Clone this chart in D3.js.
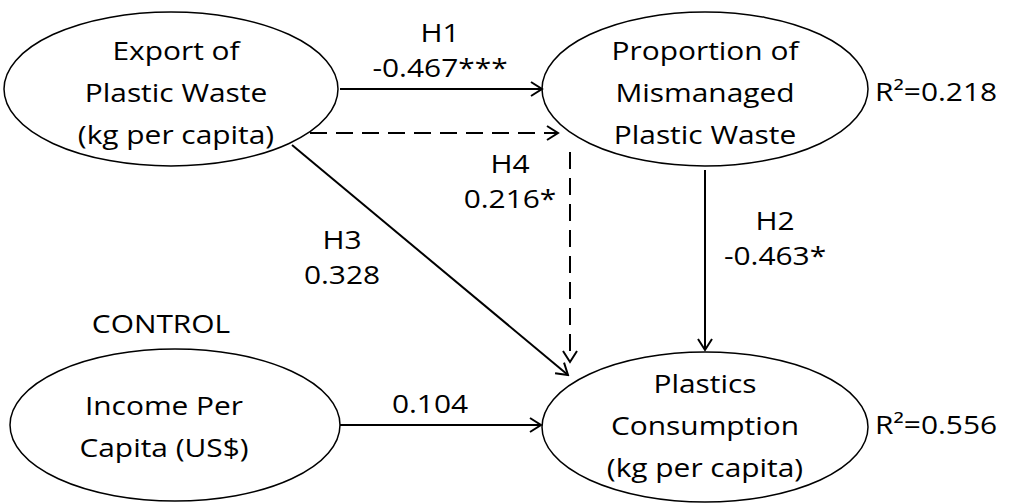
<!DOCTYPE html>
<html>
<head>
<meta charset="utf-8">
<script src="https://cdn.jsdelivr.net/npm/d3@7"></script>
<style>
	body { margin: 0; background: #fff; }
	text { font-family: 'Open Sans', 'Noto Sans', sans-serif; fill: #000; }
</style>
</head>
<body>
<div id="diagram"></div>
<script>
// constructs (ellipses), split into lines
const constructs = ['export', 'mismanaged', 'income', 'consumption']
const constructLabels = [
	['Export of', 'Plastic Waste', '(kg per capita)'],
	['Proportion of', 'Mismanaged', 'Plastic Waste'],
	['Income Per', 'Capita (US$)'],
	['Plastics', 'Consumption', '(kg per capita)']
]
const rSquared = [null, '0.218', null, '0.556']

// structural paths
const pathIds = ['H1', 'H2', 'H3', 'H4', 'C']
const pathHypotheses = ['H1', 'H2', 'H3', 'H4', '']
const pathCoefficients = ['-0.467***', '-0.463*', '0.328', '0.216*', '0.104']
const pathDashed = [false, false, false, true, false]

const controlLabel = 'CONTROL'

function init() {
	const width = 1013, height = 503
	const fontSize = 26, stretch = 1.15, lineGap = 42

	let svg = d3.select('#diagram')
	.append('svg')
	.attr('width', width)
	.attr('height', height)

	// grid position of each construct
	const col = d3.scaleOrdinal().domain(constructs).range([171, 705, 175, 705])
	const row = d3.scaleOrdinal().domain(constructs).range([89, 89, 425, 427])
	const rx = d3.scaleOrdinal().domain(constructs).range([167, 163, 165, 163])
	const ry = d3.scaleOrdinal().domain(constructs).range([77, 77, 76, 75])
	const textX = d3.scaleOrdinal().domain(constructs).range([176, 705, 164, 705])
	const textY = d3.scaleOrdinal().domain(constructs).range([102, 102, 436, 435])

	svg.append('defs').append('marker')
	.attr('id', 'head')
	.attr('viewBox', '-14 -9 16 18')
	.attr('refX', 0).attr('refY', 0)
	.attr('markerWidth', 16).attr('markerHeight', 18)
	.attr('markerUnits', 'userSpaceOnUse')
	.attr('orient', 'auto')
	.append('path')
	.attr('d', 'M-11,-7L0,0L-11,7')
	.attr('fill', 'none')
	.attr('stroke', '#000')
	.attr('stroke-width', 2)

	svg.selectAll('ellipse')
	.data(constructs)
	.join('ellipse')
	.attr('cx', d => col(d))
	.attr('cy', d => row(d))
	.attr('rx', d => rx(d))
	.attr('ry', d => ry(d))
	.attr('fill', 'none')
	.attr('stroke', '#000')
	.attr('stroke-width', 1.5)

	// little helper for the stretched text
	function label(sel, x, y, str, anchor) {
		sel.append('text')
		.attr('transform', `translate(${x},${y}) scale(${stretch},1)`)
		.attr('text-anchor', anchor || 'middle')
		.style('font-size', fontSize + 'px')
		.text(str)
	}

	let nodeText = svg.append('g')
	constructs.forEach((c, i) => {
		let lines = constructLabels[i]
		lines.forEach((l, j) => {
			label(nodeText, textX(c), textY(c) + (j - (lines.length - 1) / 2) * lineGap, l)
		})
		if (rSquared[i]) label(nodeText, 875, textY(c) - 1, 'R\u00b2=' + rSquared[i], 'start')
	})

	// arrows: start and end points beside the ellipses
	const ends = {
		H1: [[340, 89], [542, 89]],
		H2: [[705, 170], [705, 350]],
		H3: [[292, 145], [568, 375]],
		H4: [[310, 133], [558, 133]],
		H4b: [[570, 152], [570, 362]],
		C: [[340, 425], [541, 425]]
	}
	const labelPos = {
		H1: [440, 42], H2: [775, 230], H3: [342, 249], H4: [510, 173], C: [430, 413]
	}

	let line = d3.line()
	let arrows = svg.append('g')

	pathIds.forEach((id, i) => {
		let segs = id === 'H4' ? ['H4', 'H4b'] : [id]
		segs.forEach(s => {
			arrows.append('path')
			.attr('d', line(ends[s]))
			.attr('fill', 'none')
			.attr('stroke', '#000')
			.attr('stroke-width', 2)
			.attr('stroke-dasharray', pathDashed[i] ? '17,9' : null)
			.attr('marker-end', 'url(#head)')
		})
		let [lx, ly] = labelPos[id]
		if (pathHypotheses[i]) {
			label(arrows, lx, ly, pathHypotheses[i])
			label(arrows, lx, ly + 35, pathCoefficients[i])
		} else {
			label(arrows, lx, ly, pathCoefficients[i])
		}
	})

	label(svg, 161, 333, controlLabel)
}

init()
</script>
</body>
</html>
